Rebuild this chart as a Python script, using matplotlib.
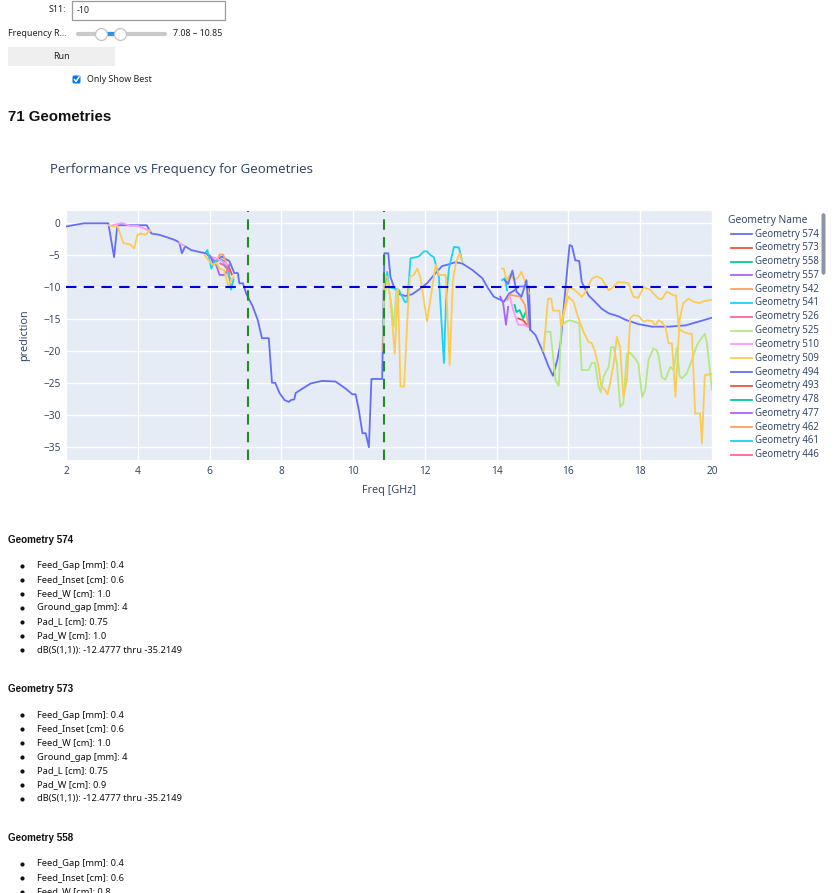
import numpy as np
import matplotlib
matplotlib.use("Agg")
import matplotlib.pyplot as plt
from matplotlib.lines import Line2D
from matplotlib.patches import Rectangle, FancyBboxPatch

nan = np.nan

# ---------------- data ----------------
g574_x = [2.0, 2.5, 3.18, 3.34, 3.43, 4.25, 4.38, 4.6, 4.98, 5.1, 5.16, 5.23, 5.32, 5.49, 5.72, 5.9, 6.05,
          6.1, 6.2, 6.34, 6.48, 6.55, 6.69, 6.79, 6.83, 6.93, 7.02, 7.2, 7.34, 7.46, 7.65, 7.74, 7.83, 7.95,
          8.09, 8.21, 8.27, 8.36, 8.4, 8.59, 8.82, 9.14, 9.51, 9.79, 9.98, 10.07, 10.16, 10.26, 10.35, 10.44,
          10.51, 10.81, 10.87, 10.98, 11.04, 11.14, 11.28, 11.46, 11.65, 11.83, 12.06, 12.3, 12.48, 12.62,
          12.85, 13.04, 13.32, 13.6, 13.74, 13.92, 14.11, 14.2, 14.35, 14.5, 14.6, 14.9, 14.94, 15.08, 15.27,
          15.45, 15.57, 15.69, 15.78, 15.92, 16.03, 16.1, 16.19, 16.3, 16.37, 16.56, 16.74, 16.93, 17.12,
          17.4, 17.58, 17.95, 18.33, 18.79, 19.26, 19.63, 20.0]
g574_y = [-0.5, 0.0, 0.0, -5.3, -0.3, -0.3, -1.6, -1.8, -2.5, -2.8, -3.1, -4.7, -3.6, -4.2, -4.5, -4.7, -5.5,
          -6.3, -5.8, -5.2, -5.7, -5.9, -7.8, -7.8, -9.4, -9.4, -11.0, -13.0, -15.1, -18.0, -18.0, -25.0,
          -25.0, -26.6, -27.7, -28.0, -27.7, -27.6, -26.6, -25.9, -25.1, -24.7, -24.8, -25.9, -26.8, -26.8,
          -29.3, -32.9, -32.9, -35.1, -24.4, -24.4, -4.7, -4.7, -8.4, -10.0, -11.1, -11.4, -11.1, -10.4,
          -9.4, -7.8, -6.7, -6.5, -6.1, -6.3, -7.3, -8.6, -10.0, -11.5, -12.0, -12.3, -11.0, -10.5, -9.9,
          -9.9, -16.7, -17.5, -19.9, -22.5, -23.9, -21.4, -18.8, -10.0, -3.4, -3.6, -5.8, -5.9, -9.2, -11.3,
          -12.3, -13.4, -14.1, -14.6, -15.1, -15.8, -16.2, -16.2, -16.0, -15.4, -14.8]

g573_x = [6.34, 6.45, 6.55, 6.62, nan, 14.6, 14.74, 14.88]
g573_y = [-5.7, -6.2, -7.0, -8.0, nan, -14.9, -15.2, -16.2]

g558_x = [14.5, 14.55, 14.64, 14.74, 14.8]
g558_y = [-12.8, -13.9, -13.6, -14.9, -14.0]

g557_x = [6.0, 6.15, 6.28, 6.43, 6.55, nan, 14.1, 14.18, 14.26, 14.32]
g557_y = [-5.0, -6.0, -8.1, -8.1, -6.5, nan, -11.5, -12.5, -15.9, -13.1]

g542_x = [6.2, 6.28, 6.38, 6.43, 6.53, 6.6, nan, 14.3, 14.37, 14.65, 14.79, 14.88]
g542_y = [-6.0, -4.9, -4.9, -5.7, -8.4, -9.0, nan, -12.0, -11.2, -11.5, -12.8, -15.9]

g541_x = [5.9, 5.94, 6.05, 6.14, 6.34, 6.43, 6.53, 6.6, 6.67, nan,
          10.84, 10.86, 10.95, 11.0, 11.14, 11.28, 11.37, 11.44, 11.51, 11.6, 11.83, 11.97, 12.06, 12.16,
          12.25, 12.39, 12.53, 12.59, 12.67, 12.81, 12.95, 13.04, nan, 14.15, 14.23, 14.29]
g541_y = [-4.5, -4.2, -7.1, -6.0, -5.7, -6.8, -7.3, -10.4, -8.8, nan,
          -18.0, -12.0, -7.6, -10.0, -10.2, -10.5, -11.5, -12.3, -12.3, -5.5, -5.2, -4.4, -4.4, -5.0,
          -5.3, -8.4, -21.9, -12.0, -7.1, -3.7, -3.8, -6.0, nan, -8.9, -8.6, -10.5]

g526_x = [6.3, 6.45, 6.55]
g526_y = [-6.3, -6.7, -7.5]

g525_x = [10.86, 10.95, 11.05, 11.14, 11.2, nan,
          15.3, 15.36, 15.5, 15.64, 15.73, 15.8, 15.95, 16.05, 16.3, 16.37, 16.56, 16.65, 16.74, 16.84,
          16.9, 16.98, 17.12, 17.19, 17.26, 17.35, 17.44, 17.53, 17.63, 17.72, 17.86, 17.95, 18.05, 18.14,
          18.23, 18.37, 18.46, 18.51, 18.6, 18.7, 18.84, 18.93, 19.02, 19.1, 19.16, 19.3, 19.44, 19.58,
          19.67, 19.8, 19.86, 20.0]
g525_y = [-12.0, -9.0, -12.0, -16.2, -10.5, nan,
          -20.0, -17.0, -17.0, -24.6, -25.5, -16.0, -15.4, -15.2, -15.7, -23.0, -23.0, -21.9, -21.9, -25.6,
          -26.5, -24.0, -22.5, -19.4, -19.4, -22.0, -28.8, -28.2, -20.4, -20.3, -21.2, -22.0, -27.2, -26.1,
          -21.4, -19.6, -19.9, -20.7, -24.1, -24.5, -22.5, -23.0, -19.5, -24.0, -24.3, -23.5, -21.4, -19.1,
          -18.3, -17.3, -18.8, -26.1]

g510_x = [3.3, 3.55, 3.8, 4.0, 4.25, 4.35, nan, 5.15, 5.3, nan, 6.1, 6.3, 6.5, nan,
          14.37, 14.46, 14.6, 14.74, 14.88]
g510_y = [-0.3, 0.05, -0.4, -0.4, -1.0, -1.2, nan, -3.1, -3.5, nan, -5.3, -5.8, -6.5, nan,
          -11.5, -13.6, -15.9, -15.9, -16.2]

g509_x = [3.18, 3.3, 3.43, 3.6, 3.78, 3.9, 3.99, 4.1, 4.22, 4.33, nan,
          5.86, 6.0, 6.1, 6.19, 6.28, 6.4, 6.53, 6.62, 6.67, nan,
          10.84, 10.86, 10.95, 11.04, 11.16, 11.25, 11.32, 11.42, 11.51, 11.58, 11.69, 11.79, 11.88, 12.06,
          12.3, 12.39, 12.58, 12.69, 12.78, 12.87, 12.97, 13.04, nan,
          14.15, 14.2, 14.28, 14.37, 14.5, 14.6, 14.69, 14.83, 14.9, nan,
          15.31, 15.43, 15.52, 15.57, 15.75, 15.8, 15.9, 16.0, 16.14, 16.37, 16.45, 16.65, 16.79, 16.93,
          17.12, 17.2, 17.38, 17.58, 17.67, 17.81, 17.95, 18.09, 18.28, 18.37, 18.51, 18.6, 18.74, 18.93,
          19.0, 19.07, 19.2, 19.35, 19.44, 19.53, 19.67, 19.72, 19.8, 20.0]
g509_y = [-0.3, -0.5, -0.4, -3.1, -3.3, -3.9, -1.8, -1.6, -1.8, -1.1, nan,
          -5.0, -6.0, -6.5, -6.2, -7.1, -7.3, -9.9, -8.6, -8.4, nan,
          -20.0, -8.1, -8.4, -12.0, -20.4, -10.2, -25.6, -25.6, -15.2, -8.4, -8.1, -7.1, -8.6, -15.4,
          -6.5, -8.1, -8.1, -22.2, -8.9, -6.0, -4.7, -6.0, nan,
          -7.1, -7.1, -9.0, -8.0, -8.9, -8.5, -7.6, -9.7, -11.0, nan,
          -19.9, -11.8, -11.8, -13.7, -13.7, -16.3, -13.0, -10.0, -10.3, -11.5, -11.0, -8.7, -8.3, -8.7,
          -10.5, -10.2, -9.2, -9.3, -9.4, -11.5, -11.7, -10.0, -10.4, -11.0, -11.8, -11.9, -10.7, -11.3,
          -11.3, -16.5, -17.0, -17.3, -17.3, -29.8, -29.8, -34.5, -23.8, -23.6]

g494_x = [14.23, 14.32, 14.44, 14.55, 14.69, 14.79, 14.83, 14.93]
g494_y = [-8.9, -9.5, -7.4, -10.7, -11.5, -9.7, -8.9, -16.7]

g429_x = [15.85, 16.0, 16.14, 16.28, 16.42, 16.56, 16.65, 16.74, 16.84, 16.91, 17.02, 17.09, 17.16, 17.26,
          17.35, 17.44, 17.53, 17.63, 17.72, 17.81, 17.95, 18.09, 18.19, 18.33, 18.42, 18.51, 18.6, 18.7,
          18.79, 18.88, 18.91, 18.98, 19.1, 19.2, 19.35, 19.49, 19.65, 19.77, 20.0]
g429_y = [-14.5, -11.5, -12.3, -14.9, -17.0, -18.6, -18.8, -20.1, -22.5, -25.4, -26.1, -26.8, -25.1, -22.0,
          -17.8, -19.4, -27.2, -24.6, -14.9, -14.4, -14.5, -15.4, -15.2, -15.3, -16.0, -15.2, -15.5, -16.2,
          -18.8, -18.8, -20.9, -27.2, -15.0, -12.5, -11.8, -12.3, -12.5, -12.2, -12.0]

# legend order (first 17 of 71 visible)
legend_names = ["Geometry 574", "Geometry 573", "Geometry 558", "Geometry 557", "Geometry 542",
                "Geometry 541", "Geometry 526", "Geometry 525", "Geometry 510", "Geometry 509",
                "Geometry 494", "Geometry 493", "Geometry 478", "Geometry 477", "Geometry 462",
                "Geometry 461", "Geometry 446"]
palette = ['#636EFA', '#EF553B', '#00CC96', '#AB63FA', '#FFA15A', '#19D3F3', '#FF6692', '#B6E880',
           '#FF97FF', '#FECB52']

traces = [("Geometry 574", g574_x, g574_y), ("Geometry 573", g573_x, g573_y),
          ("Geometry 558", g558_x, g558_y), ("Geometry 557", g557_x, g557_y),
          ("Geometry 542", g542_x, g542_y), ("Geometry 541", g541_x, g541_y),
          ("Geometry 526", g526_x, g526_y), ("Geometry 525", g525_x, g525_y),
          ("Geometry 510", g510_x, g510_y), ("Geometry 509", g509_x, g509_y),
          ("Geometry 494", g494_x, g494_y), ("Geometry 429", g429_x, g429_y)]
trace_color_index = [0, 1, 2, 3, 4, 5, 6, 7, 8, 9, 0, 9]

s11_threshold = -10
freq_low, freq_high = 7.08, 10.85
n_geometries = 71

x_ticks = [2, 4, 6, 8, 10, 12, 14, 16, 18, 20]
y_ticks = [0, -5, -10, -15, -20, -25, -30, -35]

details = [
    ("Geometry 574", ["Feed_Gap [mm]: 0.4", "Feed_Inset [cm]: 0.6", "Feed_W [cm]: 1.0", "Ground_gap [mm]: 4",
                      "Pad_L [cm]: 0.75", "Pad_W [cm]: 1.0", "dB(S(1,1)): -12.4777 thru -35.2149"]),
    ("Geometry 573", ["Feed_Gap [mm]: 0.4", "Feed_Inset [cm]: 0.6", "Feed_W [cm]: 1.0", "Ground_gap [mm]: 4",
                      "Pad_L [cm]: 0.75", "Pad_W [cm]: 0.9", "dB(S(1,1)): -12.4777 thru -35.2149"]),
    ("Geometry 558", ["Feed_Gap [mm]: 0.4", "Feed_Inset [cm]: 0.6", "Feed_W [cm]: 0.8"]),
]

# ---------------- figure ----------------
W, H = 837, 893
fig = plt.figure(figsize=(W / 100, H / 100), dpi=100)
fig.patch.set_facecolor('white')


def fx(px):
    return px / W


def fy(py):
    return 1 - py / H


PF = ['Open Sans', 'DejaVu Sans']
TXT = '#2a3f5f'
PAGE = ['Noto Sans', 'DejaVu Sans']
BOLD = ['Liberation Sans', 'DejaVu Sans']

ax = fig.add_axes([fx(66), fy(460), (712 - 66) / W, (460 - 211) / H])
ax.set_facecolor('#E5ECF6')
for s in ax.spines.values():
    s.set_visible(False)
ax.set_xlim(2, 20)
ax.set_ylim(-37.1, 1.93)
ax.set_xticks(x_ticks)
ax.set_yticks(y_ticks)
ax.grid(True, color='white', lw=1.0)
ax.set_axisbelow(True)
ax.tick_params(length=0, labelsize=7.3, labelcolor=TXT, pad=4)
for lab in ax.get_xticklabels() + ax.get_yticklabels():
    lab.set_family(PF)

for (name, xs, ys), ci in zip(traces, trace_color_index):
    ax.plot(xs, ys, color=palette[ci], lw=1.3, solid_joinstyle='round')

ax.axhline(s11_threshold, color='#0000e0', lw=1.5, ls=(0, (5, 3.5)))
ax.axvline(freq_low, color='#228b22', lw=1.5, ls=(0, (5, 3.5)))
ax.axvline(freq_high, color='#228b22', lw=1.5, ls=(0, (5, 3.5)))

ax.set_xlabel("Freq [GHz]", fontsize=7.8, color=TXT, family=PF, labelpad=6)
ax.set_ylabel("prediction", fontsize=7.8, color=TXT, family=PF, labelpad=9)

fig.text(fx(50), fy(170), "Performance vs Frequency for Geometries", fontsize=9.5, color=TXT,
         family=PF, va='center', ha='left')

# legend
fig.text(fx(728), fy(220), "Geometry Name", fontsize=7.4, color=TXT, family=PF, va='center')
for i, name in enumerate(legend_names):
    yy = 234 + i * 13.8
    fig.add_artist(Line2D([fx(731), fx(752)], [fy(yy), fy(yy)], color=palette[i % 10], lw=1.3,
                          transform=fig.transFigure))
    fig.text(fx(755), fy(yy), name, fontsize=6.9, color=TXT, family=PF, va='center')
fig.add_artist(FancyBboxPatch((fx(821.5), fy(275)), fx(4), (275 - 213) / H,
                              boxstyle="round,pad=0,rounding_size=0.003", fc='#8c95a8', ec='none',
                              transform=fig.transFigure))

# ---------------- widgets ----------------
ws = 6.4
fig.text(fx(66), fy(10), "S11:", fontsize=ws, color='#222', family=PAGE, va='center', ha='right')
fig.add_artist(Rectangle((fx(72), fy(20)), (225 - 72) / W, 19 / H, fc='white', ec='#9a9a9a', lw=0.9,
                         transform=fig.transFigure))
fig.text(fx(77), fy(10.5), str(s11_threshold), fontsize=ws, color='#222', family=PAGE, va='center')

fig.text(fx(8), fy(34), "Frequency R...", fontsize=ws, color='#222', family=PAGE, va='center')
fig.add_artist(Line2D([fx(78), fx(165)], [fy(34), fy(34)], color='#c9c9c9', lw=3.0,
                      solid_capstyle='round', transform=fig.transFigure))
fig.add_artist(Line2D([fx(101), fx(120)], [fy(34), fy(34)], color='#2196f3', lw=3.0,
                      transform=fig.transFigure))
for hx in (101, 120):
    fig.add_artist(Line2D([fx(hx)], [fy(34)], marker='o', ms=8.6, mfc='white', mec='#c4c4c4', mew=0.9,
                          transform=fig.transFigure))
fig.text(fx(173), fy(34), f"{freq_low:.2f} \u2013 {freq_high:.2f}", fontsize=ws, color='#222',
         family=PAGE, va='center')

fig.add_artist(Rectangle((fx(8), fy(66)), (115 - 8) / W, 19 / H, fc='#efefef', ec='none',
                         transform=fig.transFigure))
fig.text(fx(61.5), fy(56.5), "Run", fontsize=ws, color='#222', family=PAGE, va='center', ha='center')

fig.add_artist(FancyBboxPatch((fx(72.5), fy(83.5)), 8 / W, 8 / H,
                              boxstyle="round,pad=0,rounding_size=0.002", fc='#0075ff', ec='none',
                              transform=fig.transFigure))
fig.add_artist(Line2D([fx(74.5), fx(76), fx(79)], [fy(79.5), fy(81.5), fy(77)], color='white', lw=1.1,
                      transform=fig.transFigure))
fig.text(fx(87), fy(80), "Only Show Best", fontsize=ws, color='#222', family=PAGE, va='center')

fig.text(fx(8), fy(117), f"{n_geometries} Geometries", fontsize=10.8, color='#111', family=BOLD,
         weight='bold', va='center')

# ---------------- details ----------------
ds = 6.7
heads_y = [540, 689, 838]
for (title, items), hy in zip(details, heads_y):
    fig.text(fx(8), fy(hy), title, fontsize=7.1, color='#111', family=BOLD, weight='bold', va='center')
    for j, it in enumerate(items):
        yy = hy + 26 + j * 14
        fig.add_artist(Line2D([fx(22.5)], [fy(yy)], marker='o', ms=3.0, mfc='#111', mec='none',
                              transform=fig.transFigure))
        fig.text(fx(37), fy(yy), it, fontsize=ds, color='#111', family=PAGE, va='center')

fig.savefig("out.png", dpi=100)
